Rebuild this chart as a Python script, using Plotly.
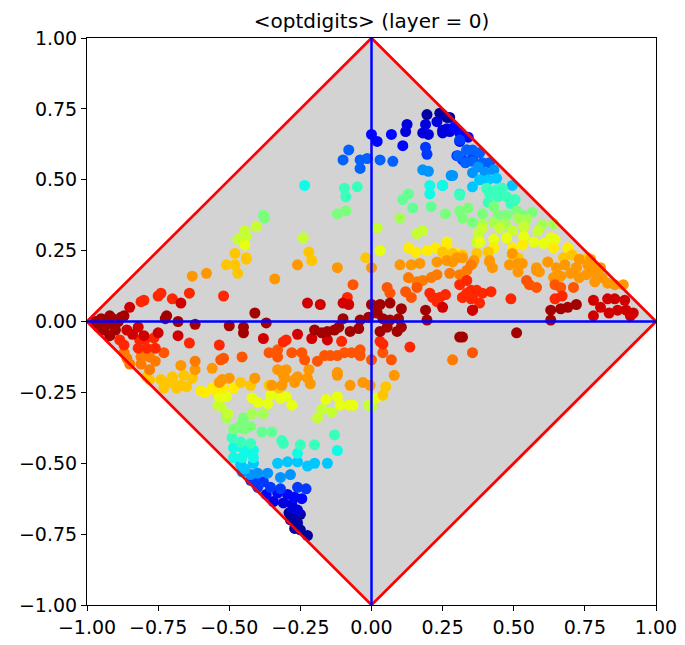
import plotly.graph_objects as go

# diamond outline and the two axis lines
diamond_x = [-1.0, 0.0, 1.0, 0.0, -1.0]
diamond_y = [0.0, 1.0, 0.0, -1.0, 0.0]
axis_span = [-1.0, 1.0]
tick_vals = [-1.0, -0.75, -0.5, -0.25, 0.0, 0.25, 0.5, 0.75, 1.0]

# points, grouped by colour value (0 = dark blue, 1 = dark red)
band_vals = [0.03, 0.08, 0.13, 0.18, 0.22, 0.27, 0.32, 0.37, 0.42, 0.47, 0.5, 0.55,
             0.59, 0.63, 0.66, 0.7, 0.75, 0.78, 0.82, 0.87, 0.93, 0.97]

b03_x = [0.195, 0.24, 0.265, 0.25, 0.275, -0.29, -0.27, -0.25, -0.285, -0.26, -0.27, -0.25, -0.225]
b03_y = [0.73, 0.735, 0.72, 0.73, 0.72, -0.675, -0.69, -0.68, -0.70, -0.71, -0.73, -0.735, -0.755]

b08_x = [0.125, 0.12, 0.19, 0.23, 0.18, 0.20, 0.25, 0.275, 0.265, 0.25, -0.345, -0.31, -0.28, -0.275, -0.26]
b08_y = [0.695, 0.67, 0.695, 0.705, 0.665, 0.66, 0.675, 0.67, 0.68, 0.665, -0.635, -0.64, -0.645, -0.66, -0.665]

b13_x = [0.0, 0.02, 0.07, 0.11, 0.29, 0.31, 0.34, 0.31, -0.37, -0.33, -0.295, -0.27, -0.245]
b13_y = [0.66, 0.635, 0.66, 0.62, 0.685, 0.665, 0.65, 0.635, -0.61, -0.605, -0.61, -0.62, -0.625]

b18_x = [0.19, 0.195, 0.31, 0.335, 0.30, 0.32, 0.355, -0.40, -0.355, -0.32, -0.26, -0.23, -0.425, -0.40, -0.38]
b18_y = [0.615, 0.59, 0.64, 0.605, 0.585, 0.57, 0.575, -0.585, -0.585, -0.59, -0.585, -0.59, -0.56, -0.56, -0.565]

b22_x = [-0.08, -0.10, -0.04, -0.015, 0.03, 0.075, -0.04, 0.335, 0.355, 0.38, 0.305, 0.33, 0.355, 0.39, 0.415]
b22_y = [0.605, 0.57, 0.57, 0.575, 0.57, 0.565, 0.54, 0.605, 0.605, 0.595, 0.585, 0.56, 0.565, 0.56, 0.56]

b27_x = [0.18, 0.20, 0.28, 0.285, 0.355, 0.375, 0.40, 0.43, -0.455, -0.425, -0.40, -0.365, -0.32, -0.285]
b27_y = [0.535, 0.53, 0.515, 0.515, 0.525, 0.545, 0.525, 0.535, -0.53, -0.54, -0.535, -0.535, -0.55, -0.54]

b32_x = [0.25, 0.355, 0.38, 0.41, 0.44, 0.495, -0.46, -0.445, -0.415, -0.33, -0.295, -0.26, -0.225, -0.20, -0.155]
b32_y = [0.48, 0.475, 0.50, 0.50, 0.505, 0.48, -0.505, -0.52, -0.50, -0.50, -0.495, -0.495, -0.51, -0.50, -0.50]

b37_x = [-0.235, 0.205, 0.205, 0.25, 0.31, -0.485, -0.455, -0.415, -0.485, -0.455, -0.415, -0.44, -0.26, -0.12]
b37_y = [0.48, 0.48, 0.45, 0.48, 0.45, -0.48, -0.48, -0.48, -0.445, -0.445, -0.455, -0.46, -0.465, -0.455]

b42_x = [-0.095, -0.05, -0.09, 0.31, 0.405, 0.415, 0.44, 0.46, 0.41, 0.445, 0.475, 0.505, 0.49,
         -0.49, -0.46, -0.425, -0.315, -0.31, -0.25, -0.20, -0.13]
b42_y = [0.47, 0.475, 0.44, 0.445, 0.47, 0.45, 0.465, 0.47, 0.42, 0.44, 0.44, 0.43, 0.415,
         -0.41, -0.425, -0.43, -0.42, -0.43, -0.435, -0.435, -0.40]

b47_x = [0.13, 0.11, 0.145, 0.21, -0.385, -0.35]
b47_y = [0.45, 0.43, 0.40, 0.405, -0.39, -0.39]

b50_x = [-0.12, -0.09, -0.38, -0.375, 0.26, 0.31, 0.34, 0.39, 0.43, 0.445, 0.475, 0.51, 0.53, 0.565, 0.32, 0.355,
         -0.485, -0.47, -0.445, -0.425, -0.45, -0.455]
b50_y = [0.38, 0.39, 0.375, 0.365, 0.38, 0.39, 0.40, 0.38, 0.405, 0.375, 0.375, 0.39, 0.375, 0.385, 0.365, 0.35,
         -0.38, -0.375, -0.38, -0.37, -0.34, -0.36]

b55_x = [0.10, 0.39, 0.43, 0.47, 0.515, 0.545, 0.60, 0.64, -0.51, -0.51, -0.42, -0.38]
b55_y = [0.365, 0.34, 0.35, 0.345, 0.365, 0.36, 0.34, 0.345, -0.325, -0.34, -0.325, -0.325]

b59_x = [-0.405, -0.445, -0.44, -0.47, -0.24, 0.02, 0.16, 0.18, 0.375, 0.37, 0.39, 0.45, 0.495, 0.535, 0.585,
         -0.54, -0.53, -0.505, -0.175, -0.14, -0.19, 0.0, -0.01]
b59_y = [0.335, 0.32, 0.30, 0.29, 0.295, 0.33, 0.31, 0.32, 0.31, 0.28, 0.33, 0.33, 0.32, 0.335, 0.32,
         -0.295, -0.30, -0.325, -0.31, -0.32, -0.34, -0.30, -0.295]

b63_x = [-0.445, 0.265, 0.38, 0.43, 0.475, 0.535, 0.57, 0.605, 0.63, 0.645, 0.03,
         -0.42, -0.40, -0.355, -0.365, -0.32, -0.30, -0.28, -0.16, -0.12, -0.11, -0.08, -0.065, -0.535, -0.51, 0.015]
b63_y = [0.27, 0.28, 0.28, 0.29, 0.295, 0.30, 0.28, 0.275, 0.295, 0.29, 0.25,
         -0.27, -0.285, -0.26, -0.29, -0.27, -0.265, -0.295, -0.275, -0.265, -0.295, -0.295, -0.295, -0.265, -0.265, -0.27]

b66_x = [0.13, 0.155, 0.195, 0.225, 0.265, 0.26, 0.30, 0.32, 0.43, 0.495, 0.53, 0.69, 0.64,
         -0.585, -0.56, -0.525, -0.485, -0.60, -0.555]
b66_y = [0.26, 0.245, 0.25, 0.26, 0.275, 0.245, 0.24, 0.235, 0.26, 0.26, 0.27, 0.26, 0.26,
         -0.25, -0.235, -0.235, -0.235, -0.245, -0.24]

b70_x = [-0.51, -0.48, -0.47, -0.44, -0.48, -0.44, -0.22, -0.21,
         0.25, 0.285, 0.32, 0.37, 0.41, 0.495, 0.515, 0.62, 0.675, 0.705, 0.76,
         -0.46, -0.425, -0.79, -0.78, -0.74, -0.72, -0.70, -0.67, -0.65, -0.63, -0.66, -0.70, -0.73, -0.685,
         -0.36, -0.325, 0.05, 0.04, -0.02]
b70_y = [0.20, 0.20, 0.17, 0.22, 0.24, 0.225, 0.245, 0.215,
         0.245, 0.24, 0.235, 0.24, 0.245, 0.235, 0.225, 0.21, 0.225, 0.235, 0.225,
         -0.215, -0.225, -0.195, -0.205, -0.205, -0.215, -0.215, -0.225, -0.23, -0.20, -0.19, -0.195, -0.235, -0.235,
         -0.225, -0.235, -0.23, -0.26, 0.225]

b75_x = [-0.63, -0.58, -0.34, -0.26, -0.12, 0.0,
         0.10, 0.14, 0.17, 0.23, 0.265, 0.30, 0.32, 0.36,
         0.285, 0.355, 0.415, 0.485, 0.515, 0.58, 0.65, 0.68, 0.72, 0.76, 0.785,
         0.415, 0.425, 0.495, 0.53, 0.515, 0.58, 0.59, 0.62,
         0.64, 0.665, 0.70, 0.72, 0.73, 0.755, 0.78, 0.785, 0.81, 0.83, 0.855, 0.885, 0.805, 0.77, 0.73,
         -0.62, -0.56, -0.33, -0.31, -0.41, -0.525, -0.50, -0.535,
         -0.35, -0.315, -0.27, -0.215, -0.075, -0.03, -0.005,
         -0.30, -0.26, -0.225, -0.27, -0.305, -0.22, -0.12, -0.12, 0.08, -0.67]
b75_y = [0.16, 0.17, 0.15, 0.20, 0.19, 0.19,
         0.20, 0.20, 0.205, 0.21, 0.215, 0.225, 0.225, 0.215,
         0.21, 0.205, 0.21, 0.20, 0.205, 0.19, 0.19, 0.20, 0.19, 0.20, 0.19,
         0.215, 0.19, 0.24, 0.205, 0.175, 0.18, 0.175, 0.21,
         0.155, 0.16, 0.17, 0.19, 0.155, 0.165, 0.175, 0.14, 0.155, 0.135, 0.13, 0.13, 0.19, 0.22, 0.22,
         -0.17, -0.165, -0.17, -0.19, -0.20, -0.205, -0.20, -0.215,
         -0.225, -0.225, -0.215, -0.22, -0.225, -0.215, -0.225,
         -0.17, -0.195, -0.20, -0.205, -0.20, -0.17, -0.18, -0.19, -0.19, -0.155]

b78_x = [0.13, 0.16, 0.18, 0.21, 0.23, 0.275, 0.31, 0.335, 0.35,
         -0.87, -0.86, -0.85, -0.81, -0.78, -0.76, -0.81, -0.78, 0.285, -0.62]
b78_y = [0.155, 0.14, 0.145, 0.155, 0.165, 0.17, 0.165, 0.18, 0.20,
         -0.11, -0.13, -0.15, -0.125, -0.125, -0.14, -0.15, -0.17, -0.135, -0.14]

b82_x = [-0.065, 0.545, 0.555, 0.58, 0.645, 0.665, 0.71,
         -0.73, -0.36, -0.33, -0.33, -0.455, -0.52, -0.53, 0.355,
         -0.28, -0.245, -0.235, -0.19, -0.165, -0.145, -0.12, -0.095, -0.07, -0.04, -0.04,
         0.0, 0.04, 0.07, 0.055, 0.065, 0.12, 0.14, 0.16]
b82_y = [0.13, 0.145, 0.13, 0.12, 0.13, 0.12, 0.12,
         -0.11, -0.11, -0.10, -0.125, -0.125, -0.13, -0.135, -0.11,
         -0.11, -0.11, -0.135, -0.14, -0.12, -0.12, -0.12, -0.11, -0.11, -0.10, -0.12,
         -0.135, -0.11, -0.135, 0.12, 0.10, 0.105, 0.085, 0.12]

b87_x = [-0.64, -0.52, -0.80, -0.81, -0.75, -0.74, -0.70,
         0.31, 0.335, 0.35, 0.37, 0.39, 0.42, 0.32, 0.355, 0.38, 0.49, 0.645, 0.67,
         -0.64, -0.535, -0.31, -0.815, -0.795, -0.765, -0.82, -0.79, -0.76, -0.885, -0.87,
         -0.30, -0.105, 0.03, 0.04, 0.135,
         0.205, 0.215, 0.24, 0.26, 0.23, 0.32, 0.335, 0.35, -0.085]
b87_y = [0.10, 0.09, 0.075, 0.07, 0.09, 0.10, 0.08,
         0.13, 0.145, 0.11, 0.11, 0.10, 0.105, 0.085, 0.085, 0.065, 0.08, 0.08, 0.09,
         -0.076, -0.083, -0.072, -0.065, -0.062, -0.058, -0.094, -0.094, -0.094, -0.065, -0.083,
         -0.065, -0.07, -0.07, -0.08, -0.09,
         0.10, 0.085, 0.085, 0.095, 0.07, 0.085, 0.10, 0.08, 0.085]

b93_x = [-0.67, -0.85, -0.75, -0.68, -0.38,
         0.355, 0.78, 0.805, 0.83, 0.855, 0.89, 0.78, 0.835, 0.865, 0.895, 0.92, 0.91,
         -0.10, -0.08, -0.225, -0.18, 0.25, 0.355, -0.26, -0.21, -0.155,
         -0.86, -0.84, -0.82, -0.80]
b93_y = [0.065, 0.05, -0.04, -0.05, -0.06,
         0.04, 0.075, 0.05, 0.08, 0.08, 0.075, 0.02, 0.03, 0.04, 0.04, 0.03, 0.02,
         0.065, 0.06, 0.065, 0.06, 0.05, 0.04, -0.045, -0.06, -0.065,
         -0.03, -0.045, -0.02, -0.05]

b97_x = [-0.88, -0.87, -0.93, -0.90, -0.72, -0.725, -0.68, -0.62, -0.41, -0.37, -0.50, -0.45, -0.45,
         0.63, 0.665, 0.69, 0.72, 0.63, 0.51, 0.32, 0.31,
         0.0, 0.03, 0.065, 0.105, 0.19,
         -0.10, -0.04, -0.01, 0.02, 0.04, 0.065, 0.095, 0.105, 0.195,
         -0.20, -0.175, -0.155, -0.13, -0.115, -0.075, -0.045, 0.03, 0.055, 0.09,
         -0.97, -0.95, -0.93, -0.92, -0.90, -0.92, -0.89, -0.96, -0.94, -0.91]
b97_y = [0.015, 0.02, 0.0, -0.005, 0.02, 0.01, 0.0, -0.01, 0.03, -0.005, -0.015, -0.02, -0.04,
         0.04, 0.045, 0.05, 0.06, 0.005, -0.04, -0.055, -0.055,
         0.06, 0.06, 0.065, 0.045, 0.04,
         0.01, 0.005, 0.015, 0.03, 0.01, 0.005, 0.01, -0.02, 0.005,
         -0.03, -0.04, -0.035, -0.03, -0.02, -0.035, -0.025, -0.035, -0.02, -0.035,
         0.0, 0.01, -0.01, 0.02, -0.03, -0.05, 0.0, -0.02, -0.03, 0.01]

bands_x = [b03_x, b08_x, b13_x, b18_x, b22_x, b27_x, b32_x, b37_x, b42_x, b47_x, b50_x, b55_x,
           b59_x, b63_x, b66_x, b70_x, b75_x, b78_x, b82_x, b87_x, b93_x, b97_x]
bands_y = [b03_y, b08_y, b13_y, b18_y, b22_y, b27_y, b32_y, b37_y, b42_y, b47_y, b50_y, b55_y,
           b59_y, b63_y, b66_y, b70_y, b75_y, b78_y, b82_y, b87_y, b93_y, b97_y]

# matplotlib "jet"
jet = [
    [0.0, "rgb(0,0,128)"], [0.11, "rgb(0,0,255)"], [0.125, "rgb(0,0,255)"],
    [0.34, "rgb(0,219,255)"], [0.35, "rgb(0,229,247)"], [0.375, "rgb(20,255,226)"],
    [0.64, "rgb(239,255,8)"], [0.65, "rgb(247,245,0)"], [0.66, "rgb(255,236,0)"],
    [0.89, "rgb(255,19,0)"], [0.91, "rgb(232,0,0)"], [1.0, "rgb(128,0,0)"],
]

px_, py_, pc_ = [], [], []
for val, bx, by in zip(band_vals, bands_x, bands_y):
    assert len(bx) == len(by), val
    px_ += bx
    py_ += by
    pc_ += [val] * len(bx)

fig = go.Figure()
fig.add_trace(go.Scatter(
    x=diamond_x, y=diamond_y, mode="lines", fill="toself",
    fillcolor="#d3d3d3", line=dict(width=0), hoverinfo="skip",
))
fig.add_trace(go.Scatter(
    x=px_, y=py_, mode="markers",
    marker=dict(size=11, color=pc_, colorscale=jet, cmin=0, cmax=1, line=dict(width=0)),
))
fig.add_trace(go.Scatter(x=diamond_x, y=diamond_y, mode="lines",
                         line=dict(color="red", width=2.7), hoverinfo="skip"))
fig.add_trace(go.Scatter(x=axis_span, y=[0, 0], mode="lines",
                         line=dict(color="blue", width=2.5), hoverinfo="skip"))
fig.add_trace(go.Scatter(x=[0, 0], y=axis_span, mode="lines",
                         line=dict(color="blue", width=2.5), hoverinfo="skip"))

axis_style = dict(
    range=[-1, 1], tickvals=tick_vals, tickformat=".2f",
    ticks="outside", ticklen=5, tickwidth=1, tickcolor="black",
    showline=True, linecolor="black", linewidth=1, mirror=True,
    showgrid=False, zeroline=False,
    tickfont=dict(family="DejaVu Sans", size=19, color="black"),
)
fig.update_layout(
    width=685, height=645,
    margin=dict(l=79, r=37, t=30, b=48),
    paper_bgcolor="white", plot_bgcolor="white",
    showlegend=False,
    title=dict(text="&lt;optdigits&gt; (layer = 0)", x=0.5, xref="paper",
               y=1 - 13 / 645, yref="container", yanchor="middle",
               font=dict(family="DejaVu Sans", size=20, color="black")),
    xaxis=axis_style,
    yaxis=axis_style,
)
fig.write_html("out.html")
